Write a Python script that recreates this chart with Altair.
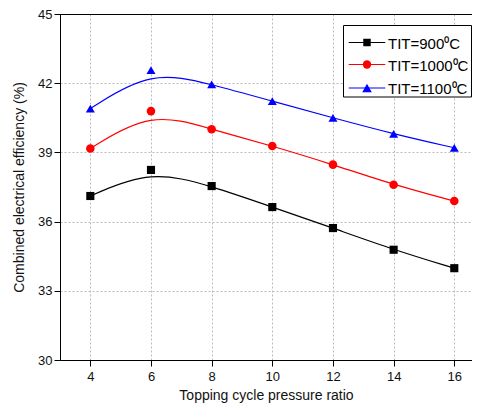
import altair as alt
import pandas as pd

# Data
pressure_ratio = [4, 6, 8, 10, 12, 14, 16]
eff_900 = [37.11, 38.24, 37.54, 36.63, 35.72, 34.78, 33.98]
eff_1000 = [39.17, 40.79, 40.00, 39.28, 38.47, 37.60, 36.89]
eff_1100 = [40.90, 42.57, 41.95, 41.22, 40.50, 39.80, 39.20]
series_names = ["TIT=900⁰C", "TIT=1000⁰C", "TIT=1100⁰C"]
series_colors = ["#000000", "#ff0000", "#0000ff"]
series_shapes = ["square", "circle", "triangle-up"]
marker_sizes = [66, 81, 100]
legend_marker_sizes = [56, 70, 92]
y_ticks = [30, 33, 36, 39, 42, 45]
x_ticks = [4, 6, 8, 10, 12, 14, 16]

rows = []
for name, vals in zip(series_names, [eff_900, eff_1000, eff_1100]):
    for xv, yv in zip(pressure_ratio, vals):
        rows.append({"x": xv, "y": yv, "series": name})
df = pd.DataFrame(rows)

FONT = "Liberation Sans"
W, H = 412, 346

color_scale = alt.Scale(domain=series_names, range=series_colors)
shape_scale = alt.Scale(domain=series_names, range=series_shapes)
x_scale = alt.Scale(domain=[3, 3 + W / 30.33], nice=False, zero=False)
y_scale = alt.Scale(domain=[30, 45], nice=False, zero=False)

base = alt.Chart(df)

x_bottom = alt.X("x:Q", scale=x_scale,
                 axis=alt.Axis(values=x_ticks, title="Topping cycle pressure ratio",
                               grid=True, gridDash=[2, 2], gridColor="#bbbbbb",
                               domainColor="black", tickColor="black", tickSize=6,
                               labelPadding=4, titlePadding=5))
y_left = alt.Y("y:Q", scale=y_scale,
               axis=alt.Axis(values=y_ticks, title="Combined electrical efficiency (%)",
                             grid=True, gridDash=[2, 2], gridColor="#bbbbbb",
                             domainColor="black", tickColor="black", tickSize=6,
                             labelPadding=2, titlePadding=11))

lines = base.mark_line(interpolate="basis", strokeWidth=1.2).encode(
    x=x_bottom, y=y_left,
    color=alt.Color("series:N", scale=color_scale, legend=None),
    detail="series:N",
)
points = base.mark_point(filled=True, opacity=1).encode(
    x=alt.X("x:Q", scale=x_scale),
    y=alt.Y("y:Q", scale=y_scale),
    color=alt.Color("series:N", scale=color_scale, legend=None),
    shape=alt.Shape("series:N", scale=shape_scale, legend=None),
    size=alt.Size("series:N", scale=alt.Scale(domain=series_names, range=marker_sizes), legend=None),
)
# top frame line of the plot box
top_frame = alt.Chart(pd.DataFrame({"a": [0]})).mark_rule(color="black", strokeWidth=1).encode(
    x=alt.value(0), x2=alt.value(W), y=alt.value(0.5)
)

# Hand-drawn legend box (legend decoration, positions in pixels)
row_y = [28.5, 50.5, 74]
LX = -4
legend_layers = []
legend_layers.append(
    alt.Chart(pd.DataFrame({"a": [0]})).mark_rect(fill="white", stroke="black", strokeWidth=1).encode(
        x=alt.value(287.5 + LX), x2=alt.value(411.5), y=alt.value(11.5), y2=alt.value(83)
    )
)
for i, name in enumerate(series_names):
    one = alt.Chart(pd.DataFrame({"series": [name]}))
    legend_layers.append(one.mark_rule(strokeWidth=1.2).encode(
        x=alt.value(292.7 + LX), x2=alt.value(329.3 + LX), y=alt.value(row_y[i]),
        color=alt.Color("series:N", scale=color_scale, legend=None)))
    legend_layers.append(one.mark_point(filled=True, size=legend_marker_sizes[i], opacity=1).encode(
        x=alt.value(311 + LX), y=alt.value(row_y[i]),
        color=alt.Color("series:N", scale=color_scale, legend=None),
        shape=alt.Shape("series:N", scale=shape_scale, legend=None)))
    legend_layers.append(one.mark_text(align="left", baseline="middle", font=FONT,
                                       fontSize=15, color="black").encode(
        x=alt.value(332 + LX), y=alt.value(row_y[i] + 1), text="series:N"))

chart = alt.layer(lines, points, top_frame, *legend_layers).properties(
    width=W, height=H,
    autosize=alt.AutoSizeParams(type="none"),
    padding={"left": 52, "top": 6, "right": 0, "bottom": 44},
).configure_view(stroke=None).configure_axis(
    labelFont=FONT, titleFont=FONT, labelFontSize=13, titleFontSize=14,
    labelColor="#111111", titleColor="#111111", titleFontWeight="normal",
)

chart.save("out.html", embed_options={"renderer": "svg", "actions": False})
